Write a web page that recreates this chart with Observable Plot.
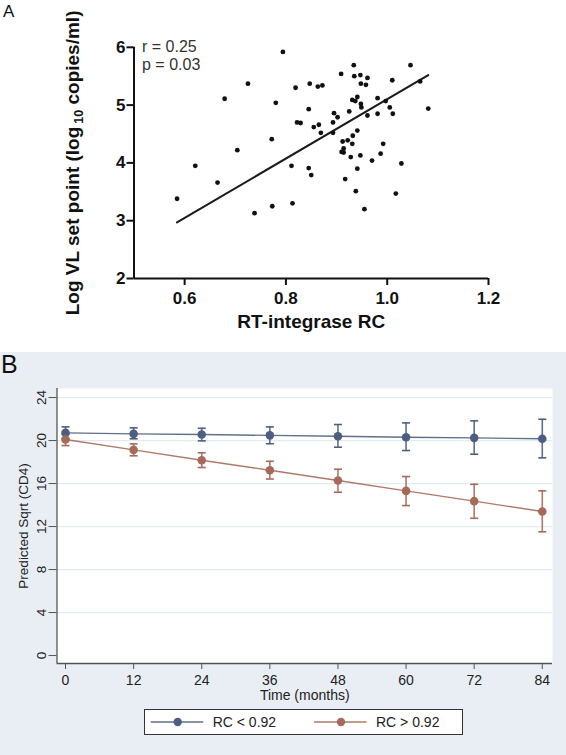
<!DOCTYPE html>
<html><head><meta charset="utf-8">
<script src="https://cdn.jsdelivr.net/npm/d3@7"></script>
<script src="https://cdn.jsdelivr.net/npm/@observablehq/plot@0.6"></script>
<style>
body{margin:0;background:#fff;}
#wrap{position:relative;width:566px;height:755px;overflow:hidden;font-family:"Liberation Sans",Arial,sans-serif;}
#panelA{position:absolute;left:0;top:0;}
#panelB{position:absolute;left:0;top:352px;width:566px;height:403px;background:#e9eef4;}
#plotB{position:absolute;left:0;top:0;}
.lbl{position:absolute;font-family:"Liberation Sans",Arial,sans-serif;color:#111;line-height:1;}
#legendB{position:absolute;left:144px;top:357px;}
</style></head><body>
<div id="wrap">
  <div id="panelA"></div>
  <div class="lbl" style="left:3px;top:3px;font-size:17px;">A</div>
  <div id="panelB">
    <div id="plotB"></div>
    <div class="lbl" style="left:1px;top:0px;font-size:25px;">B</div>
    <div id="legendB"></div>
  </div>
</div>
<script>
// ---------- Panel A data ----------
const rcX = [0.585,0.621,0.665,0.679,0.704,0.725,0.738,0.772,0.773,0.780,
  0.794,0.811,0.813,0.819,0.822,0.829,0.845,0.845,0.847,0.850,
  0.855,0.863,0.865,0.869,0.872,0.893,0.893,0.895,0.902,0.909,
  0.910,0.912,0.914,0.914,0.917,0.922,0.925,0.928,0.931,0.931,
  0.932,0.934,0.935,0.937,0.938,0.941,0.941,0.941,0.947,0.947,
  0.948,0.948,0.949,0.955,0.958,0.961,0.961,0.970,0.981,0.981,
  0.987,0.992,0.997,1.005,1.010,1.011,1.017,1.028,1.046,1.065,1.081];
const vlY = [3.38,3.95,3.66,5.11,4.22,5.37,3.13,4.41,3.25,5.04,
  5.92,3.95,3.30,5.30,4.70,4.69,4.93,3.91,5.37,3.79,
  4.62,5.32,4.66,4.52,5.34,4.52,4.70,4.86,4.79,5.54,
  4.19,4.37,4.25,4.18,3.72,4.39,4.89,4.10,5.09,4.33,
  4.47,5.69,5.50,5.07,3.51,5.14,4.56,3.90,4.13,5.52,
  5.37,5.02,4.96,3.20,5.35,4.82,5.47,4.04,5.12,4.85,
  4.16,4.33,5.07,4.96,5.43,4.85,3.47,3.99,5.69,5.41,4.94];
const fitX = [0.585, 1.081];
const fitY = [2.97, 5.52];
const statsA = ["r = 0.25", "p = 0.03"];
const xTicksA = [0.6, 0.8, 1.0, 1.2];
const yTicksA = [2, 3, 4, 5, 6];
const xTitleA = "RT-integrase RC";
const yTitleA = ["Log VL set point (log", "10", " copies/ml)"];

// ---------- Panel B data ----------
const months = [0, 12, 24, 36, 48, 60, 72, 84];
const groups = ["RC < 0.92", "RC > 0.92"];
const lowMean = [20.71, 20.62, 20.56, 20.48, 20.40, 20.31, 20.25, 20.16];
const lowLo   = [20.19, 20.16, 19.97, 19.70, 19.38, 19.07, 18.73, 18.39];
const lowHi   = [21.27, 21.18, 21.14, 21.27, 21.49, 21.64, 21.83, 21.98];
const highMean = [20.09, 19.13, 18.17, 17.24, 16.28, 15.32, 14.36, 13.40];
const highLo   = [19.53, 18.58, 17.49, 16.42, 15.19, 13.95, 12.77, 11.51];
const highHi   = [20.59, 19.69, 18.86, 18.07, 17.33, 16.65, 15.93, 15.32];
const yTicksB = [0, 4, 8, 12, 16, 20, 24];
const xTitleB = "Time (months)";
const yTitleB = "Predicted Sqrt (CD4)";
const groupColors = ["#4c5f80", "#a66a5a"];

const FONT = "Liberation Sans, Arial, sans-serif";

// ---------- Panel A ----------
const ptsA = rcX.map((x, i) => ({x, y: vlY[i]}));
const fitA = fitX.map((x, i) => ({x, y: fitY[i]}));

const plotA = Plot.plot({
  width: 566, height: 345,
  marginLeft: 133.5, marginRight: 78, marginTop: 46.8, marginBottom: 67,
  style: {background: "transparent", fontFamily: FONT, color: "#111"},
  x: {domain: [0.5, 1.2]},
  y: {domain: [2, 6]},
  marks: [
    Plot.axisX({ticks: xTicksA, tickFormat: d3.format(".1f"), tickSize: 7, tickPadding: 6.5,
      strokeWidth: 2, fontSize: 17, fontWeight: "bold", label: null}),
    Plot.axisY({ticks: yTicksA, tickFormat: d3.format("d"), tickSize: 7, tickPadding: 1.5,
      strokeWidth: 2, fontSize: 17, fontWeight: "bold", label: null}),
    Plot.ruleY([2], {x1: 0.5, x2: 1.2, strokeWidth: 2, stroke: "#111"}),
    Plot.ruleX([0.5], {y1: 2, y2: 6, strokeWidth: 2, stroke: "#111"}),
    Plot.line(fitA, {x: "x", y: "y", stroke: "#1a1a1a", strokeWidth: 2}),
    Plot.dot(ptsA, {x: "x", y: "y", r: 2.4, fill: "#111", stroke: null}),
    Plot.text([statsA[0]], {frameAnchor: "top-left", dx: 8, dy: 0, textAnchor: "start",
      lineAnchor: "middle", fontSize: 16, fill: "#333"}),
    Plot.text([statsA[1]], {frameAnchor: "top-left", dx: 8, dy: 17.3, textAnchor: "start",
      lineAnchor: "middle", fontSize: 16, fill: "#333"}),
    Plot.text([xTitleA], {frameAnchor: "bottom", dy: 43.7, textAnchor: "middle", lineAnchor: "middle",
      fontSize: 19, fontWeight: "bold", fill: "#111"}),
    Plot.text([yTitleA.join("")], {frameAnchor: "left", rotate: -90, dx: -61.5,
      textAnchor: "middle", lineAnchor: "middle",
      fontSize: 19, fontWeight: "bold", fill: "#111"})
  ]
});
document.getElementById("panelA").appendChild(plotA);

// subscript in y title
d3.select(plotA).selectAll("text").each(function() {
  if (this.textContent === yTitleA.join("")) {
    const t = d3.select(this);
    t.text(null);
    t.append("tspan").text(yTitleA[0]);
    t.append("tspan").attr("dx", 3).attr("dy", 4).attr("font-size", 12.5).text(yTitleA[1]);
    t.append("tspan").attr("dy", -4).text(yTitleA[2]);
  }
});

// ---------- Panel B ----------
const rowsB = [];
months.forEach((m, i) => rowsB.push({g: groups[0], m, v: lowMean[i], lo: lowLo[i], hi: lowHi[i]}));
months.forEach((m, i) => rowsB.push({g: groups[1], m, v: highMean[i], lo: highLo[i], hi: highHi[i]}));

const capSymbol = {
  draw(ctx, size) {
    const r = Math.sqrt(size / Math.PI);
    ctx.moveTo(-r, 0); ctx.lineTo(r, 0);
  }
};

const plotB = Plot.plot({
  width: 566, height: 355,
  marginLeft: 56.5, marginRight: 14, marginTop: 36, marginBottom: 44,
  style: {background: "transparent", fontFamily: FONT, color: "#222"},
  x: {domain: [-1.5, 85.8]},
  y: {domain: [-0.74, 24.84]},
  color: {domain: groups, range: groupColors},
  marks: [
    Plot.frame({fill: "white", stroke: null}),
    Plot.ruleY(yTicksB.filter(d => d > 0), {x1: -1.5, x2: 85.8, stroke: "#e3eaf2", strokeWidth: 1.2}),
    Plot.axisY({ticks: yTicksB, tickFormat: d3.format("d"), tickRotate: -90, tickSize: 8, tickPadding: 3,
      fontSize: 13.5, stroke: "#555", label: null}),
    Plot.axisX({ticks: months, tickFormat: d3.format("d"), tickSize: 6, tickPadding: 6, fontSize: 14, stroke: "#555", label: null}),
    Plot.ruleX([-1.5], {y1: -0.74, y2: 24.84, stroke: "#555", strokeWidth: 1.3}),
    Plot.ruleY([-0.74], {x1: -1.5, x2: 85.8, stroke: "#555", strokeWidth: 1.3}),
    Plot.line(rowsB, {x: "m", y: "v", z: "g", stroke: "g", strokeWidth: 1.4, strokeOpacity: 0.9}),
    Plot.ruleX(rowsB, {x: "m", y1: "lo", y2: "hi", stroke: "g", strokeWidth: 1.6, strokeOpacity: 0.9}),
    Plot.dot(rowsB, {x: "m", y: "lo", symbol: capSymbol, r: 4, fill: "none", stroke: "g", strokeWidth: 1.6}),
    Plot.dot(rowsB, {x: "m", y: "hi", symbol: capSymbol, r: 4, fill: "none", stroke: "g", strokeWidth: 1.6}),
    Plot.dot(rowsB, {x: "m", y: "v", r: 4.3, fill: "g", stroke: null}),
    Plot.text([xTitleB], {frameAnchor: "bottom", dy: 32, textAnchor: "middle", lineAnchor: "middle",
      fontSize: 14, fill: "#222"}),
    Plot.text([yTitleB], {frameAnchor: "left", rotate: -90, dx: -33.5, textAnchor: "middle", lineAnchor: "middle",
      fontSize: 13.5, fill: "#222"})
  ]
});
document.getElementById("plotB").appendChild(plotB);

// ---------- Legend B ----------
const colorScale = plotB.scale("color");
const lg = d3.select("#legendB").append("svg")
  .attr("width", 320).attr("height", 26)
  .style("display", "block")
  .style("font-family", FONT);
lg.append("rect").attr("x", 0.5).attr("y", 0.5).attr("width", 318).attr("height", 25)
  .attr("fill", "white").attr("stroke", "#333").attr("stroke-width", 1);
const entryX = [6.7, 170];
groups.forEach((g, i) => {
  const c = colorScale.range[i];
  const x0 = entryX[i];
  lg.append("line").attr("x1", x0).attr("x2", x0 + 52.6).attr("y1", 13).attr("y2", 13)
    .attr("stroke", c).attr("stroke-width", 1.6).attr("stroke-opacity", 0.9);
  lg.append("circle").attr("cx", x0 + 27).attr("cy", 13).attr("r", 4.2).attr("fill", c);
  lg.append("text").attr("x", x0 + 62).attr("y", 13).attr("dy", "0.35em")
    .attr("font-size", 14).attr("fill", "#222").text(g);
});
</script>
</body></html>
